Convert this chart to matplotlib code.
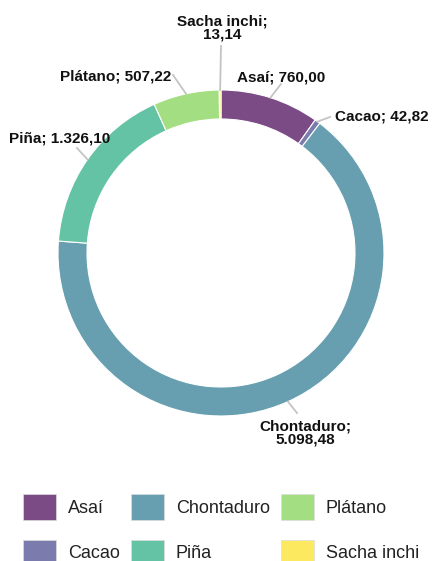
import matplotlib.pyplot as plt
import numpy as np

plt.rcParams['font.family'] = ['Liberation Sans', 'DejaVu Sans']

categories = ['Asaí', 'Cacao', 'Chontaduro', 'Piña', 'Plátano', 'Sacha inchi']
values = [760.00, 42.82, 5098.48, 1326.10, 507.22, 13.14]
value_labels = ['760,00', '42,82', '5.098,48', '1.326,10', '507,22', '13,14']
colors = ['#7b4b85', '#7b7bae', '#679fb0', '#64c3a5', '#a3df82', '#fde95f']

W, H = 432, 561
fig = plt.figure(figsize=(W / 100, H / 100), dpi=100)
ax = fig.add_axes([0, 0, 1, 1])

cx, cy, r = 221, H - 253, 163
wedges, _ = ax.pie(values, colors=colors, startangle=90, counterclock=False,
                   center=(cx, cy), radius=r, frame=True,
                   wedgeprops=dict(width=29, edgecolor='white', linewidth=0.8))
ax.set_xlim(0, W)
ax.set_ylim(0, H)
ax.axis('off')

# label text placement (pixels from top-left), alignment, line end
label_pos = {
    'Asaí': ((237, 77), 'left', (281, 84)),
    'Cacao': ((335, 116), 'left', (330, 117)),
    'Chontaduro': ((305, 433), 'center', (297, 413)),
    'Piña': ((9, 138), 'left', (77, 148)),
    'Plátano': ((171, 76), 'right', (173, 75)),
    'Sacha inchi': ((222, 28), 'center', (221, 46)),
}
two_line = {'Chontaduro', 'Sacha inchi'}

for w, name, vl in zip(wedges, categories, value_labels):
    ang = np.deg2rad((w.theta1 + w.theta2) / 2)
    px, py = cx + r * np.cos(ang), cy + r * np.sin(ang)
    (tx, ty), ha, (lx, ly) = label_pos[name]
    ax.plot([px, lx], [py, H - ly], color='#c4c4c4', lw=1.3, zorder=1)
    sep = ';\n' if name in two_line else '; '
    ax.text(tx, H - ty, name + sep + vl, ha=ha, va='center', fontsize=11,
            fontweight='bold', color='#111111', linespacing=0.95, zorder=3)

leg = fig.legend(wedges, categories, ncol=3, loc='upper left',
                 bbox_to_anchor=(23 / W, 1 - 494 / H), frameon=False,
                 fontsize=13, handlelength=1.85, handleheight=1.8,
                 handletextpad=0.65, columnspacing=0.6, labelspacing=1.12,
                 borderpad=0, borderaxespad=0)
for t in leg.get_texts():
    t.set_color('#222222')
for p in leg.get_patches():
    p.set_edgecolor('#dddddd')
    p.set_linewidth(0.5)

fig.savefig('out.png', dpi=100)
